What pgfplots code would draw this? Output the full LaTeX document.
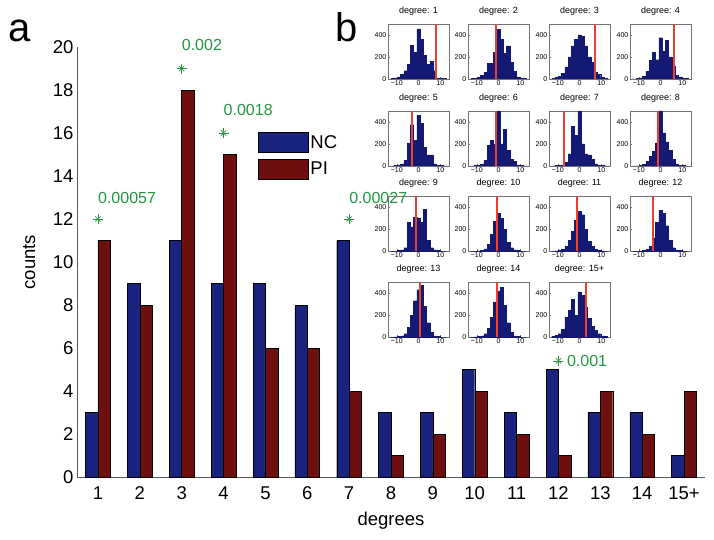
\documentclass[border=0pt]{standalone}
\usepackage{fontspec}
\setmainfont{Liberation Sans}
\usepackage{pgfplots}
\usepackage{pgfplotstable}
\pgfplotsset{compat=1.18}
\definecolor{nc}{RGB}{25,35,125}
\definecolor{pi}{RGB}{110,15,15}
\definecolor{hist}{RGB}{20,25,115}
\definecolor{rl}{RGB}{235,65,50}
\definecolor{gr}{RGB}{35,150,65}

\pgfplotstableread{
c     d1  d2  d3  d4  d5  d6  d7  d8  d9  d10 d11 d12 d13 d14 d15
-12   3   3   5   2   2   0   0   0   0   0   0   0   0   0   5
-10.5 10  8   15  5   5   3   3   2   0   0   2   0   2   2   15
-9    20  15  25  10  10  8   5   5   3   2   5   2   4   3   30
-7.5  40  30  50  25  20  15  10  15  10  5   15  5   10  10  70
-6    75  60  110 70  50  50  30  40  30  20  40  15  30  30  180
-4.5  130 140 200 170 210 190 110 90  260 60  100 40  90  80  240
-3    305 140 300 240 375 230 360 130 220 150 180 120 200 180 340
-1.5  240 245 360 175 230 200 280 210 310 270 280 260 330 320 200
0     455 450 400 375 460 500 500 500 300 340 360 370 430 420 410
1.5   360 360 385 250 390 200 200 300 260 300 330 340 470 450 380
3     215 230 300 350 170 330 110 220 380 200 200 230 280 290 270
4.5   130 300 200 200 100 140 100 140 100 80  90  100 130 130 170
6     160 150 150 120 100 60  60  60  30  30  40  30  40  40  100
7.5   75  70  60  30  20  40  20  20  10  10  15  10  10  10  60
9     10  20  40  20  8   10  8   8   3   3   5   3   3   3   30
10.5  8   8   15  8   3   3   3   3   0   0   2   0   0   0   10
12    3   3   5   3   0   0   0   0   0   0   0   0   0   0   5
}\histtab

\pgfplotsset{
  /pgf/number format/assume math mode=true,
  boxlegend/.style={legend image code/.code={\draw[##1] (0pt,-10pt) rectangle (50pt,10pt);}},
  inset/.style={
    anchor=south west, scale only axis, width=61pt, height=55pt,
    xmin=-14, xmax=14, ymin=0, ymax=500,
    xtick={-10,0,10}, xticklabels={−10,0,10}, ytick={0,200,400},
    xtick pos=lower, ytick pos=left,
    tick align=inside, major tick length=2pt,
    axis line style={black!55}, tick style={black!55},
    tick label style={font=\fontsize{7}{8}\selectfont, inner sep=1.5pt},
    title style={font=\fontsize{9}{10}\selectfont, at={(0.5,1)}, anchor=south, inner sep=2pt},
  }
}
\newcommand\inset[5]{%
\begin{axis}[inset, at={(#1pt,#2pt)}, title={degree: #3}]
\addplot[ybar, bar width=1.5, bar shift=0pt, fill=hist, draw=hist] table[x=c,y=#4]{\histtab};
\addplot[rl, line width=1.8pt] coordinates {(#5,0) (#5,500)};
\end{axis}}

\begin{document}
\begin{tikzpicture}
\useasboundingbox (0,0) rectangle (714pt,539pt);

\inset{388}{460}{1}{d1}{8}
\inset{468}{460}{2}{d2}{-1}
\inset{549}{460}{3}{d3}{7}
\inset{630}{460}{4}{d4}{6.2}
\inset{388}{373}{5}{d5}{-3}
\inset{468}{373}{6}{d6}{-1}
\inset{549}{373}{7}{d7}{-7}
\inset{630}{373}{8}{d8}{-1.3}
\inset{388}{288}{9}{d9}{-1}
\inset{468}{288}{10}{d10}{-0.8}
\inset{549}{288}{11}{d11}{-1.3}
\inset{630}{288}{12}{d12}{-3.4}
\inset{388}{202}{13}{d13}{0.8}
\inset{468}{202}{14}{d14}{-0.8}
\inset{549}{202}{15+}{d15}{2.9}

\begin{axis}[
  at={(77pt,62pt)}, anchor=south west, scale only axis,
  width=628pt, height=430pt,
  xmin=0.5, xmax=15.5, ymin=0, ymax=20,
  axis x line=bottom, axis y line=left,
  axis line style={black!65, -},
  ytick={0,2,...,20},
  xtick={1,...,15},
  xticklabels={1,2,3,4,5,6,7,8,9,10,11,12,13,14,15+},
  major tick length=0pt,
  tick label style={font=\fontsize{18.5}{20}\selectfont},
  xticklabel style={yshift=-6pt},
  xlabel={degrees}, ylabel={counts},
  label style={font=\fontsize{18.5}{20}\selectfont},
  xlabel style={at={(axis description cs:0.5,-0.102)}, anchor=center},
  ylabel style={at={(axis description cs:-0.076,0.5)}, anchor=center},
  clip=false,
  legend style={at={(axis description cs:0.288,0.802)}, anchor=north west,
    draw=none, fill=none, font=\fontsize{18.5}{20}\selectfont,
    row sep=6pt, inner sep=0pt},
  legend cell align=left,
]
\addplot[ybar, bar width=12.4pt, bar shift=-6.2pt, fill=nc, draw=black, line width=0.4pt, boxlegend]
  coordinates {(1,3) (2,9) (3,11) (4,9) (5,9) (6,8) (7,11) (8,3) (9,3) (10,5) (11,3) (12,5) (13,3) (14,3) (15,1)};
\addlegendentry{NC}
\addplot[ybar, bar width=12.4pt, bar shift=6.2pt, fill=pi, draw=black, line width=0.4pt, boxlegend]
  coordinates {(1,11) (2,8) (3,18) (4,15) (5,6) (6,6) (7,4) (8,1) (9,2) (10,4) (11,2) (12,1) (13,4) (14,2) (15,4)};
\addlegendentry{PI}
\addplot[only marks, mark=+, mark size=5pt, gr, line width=0.7pt, forget plot]
  coordinates {(1,12) (3,19) (4,16) (7,12) (12,5.4)};
\addplot[only marks, mark=x, mark size=3.6pt, gr, line width=0.7pt, forget plot]
  coordinates {(1,12) (3,19) (4,16) (7,12) (12,5.4)};
\node[gr, anchor=west, inner sep=0pt, font=\fontsize{16}{18}\selectfont] at (axis cs:1,13) {0.00057};
\node[gr, anchor=west, inner sep=0pt, font=\fontsize{16}{18}\selectfont] at (axis cs:3,20.1) {0.002};
\node[gr, anchor=west, inner sep=0pt, font=\fontsize{16}{18}\selectfont] at (axis cs:4,17.05) {0.0018};
\node[gr, anchor=west, inner sep=0pt, font=\fontsize{16}{18}\selectfont] at (axis cs:7,13) {0.00027};
\node[gr, anchor=west, inner sep=0pt, font=\fontsize{16}{18}\selectfont] at (axis cs:12.2,5.4) {0.001};
\end{axis}

\node[anchor=base west, inner sep=0pt, font=\fontsize{40}{44}\selectfont] at (8pt,497pt) {a};
\node[anchor=base west, inner sep=0pt, font=\fontsize{40}{44}\selectfont] at (335pt,497pt) {b};
\end{tikzpicture}
\end{document}
